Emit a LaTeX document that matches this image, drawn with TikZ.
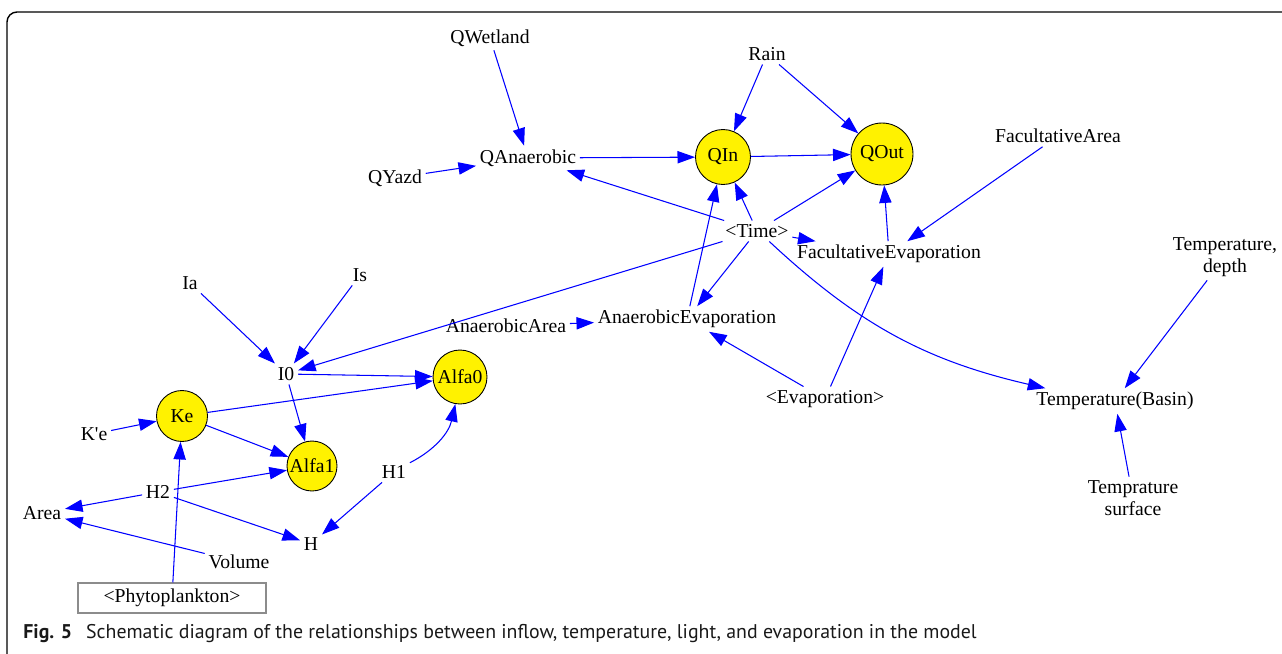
\documentclass[tikz,border=0pt]{standalone}
\usepackage{fontspec}
\setmainfont{Liberation Serif}
\newfontfamily\capfont{PT Sans}
\usetikzlibrary{arrows.meta,shapes.geometric}

\begin{document}
\begin{tikzpicture}
[x=0.02cm,y=-0.02cm,
 var/.style={inner sep=2pt,font=\fontsize{11.2}{12.5}\selectfont,align=center},
 lvl/.style={var,circle,draw,fill=yellow,inner sep=0pt,line width=0.5pt},
 shadow/.style={var,draw=black!45,line width=0.6pt,minimum width=3.76cm,minimum height=0.6cm},
 link/.style={draw=blue,line width=0.6pt,-{Triangle[length=10pt,width=7pt,fill=blue]}}]
\useasboundingbox (0,0) rectangle (1282,653);
% frame
\draw[black,line width=0.8pt,rounded corners=0.2cm] (7,700) |- (1300,12);
% inflow part
\node[var] (qwet) at (490,38) {QWetland};
\node[var] (qana) at (528,158) {QAnaerobic};
\node[var] (qyazd) at (395,178) {QYazd};
\node[var] (rain) at (767,54) {Rain};
\node[lvl,minimum size=1.1cm] (qin) at (723,157) {QIn};
\node[lvl,minimum size=1.24cm] (qout) at (882,154) {QOut};
\node[var] (facarea) at (1058,136) {FacultativeArea};
\node[var] (time) at (757,231) {<Time>};
\node[var] (faceva) at (889,254) {FacultativeEvaporation};
\node[var] (anaarea) at (506,326) {AnaerobicArea};
\node[var] (anaeva) at (687,319) {AnaerobicEvaporation};
\node[var] (eva) at (825,399) {<Evaporation>};
% temperature
\node[var] (tdepth) at (1225,257) {Temperature,\\depth};
\node[var] (tbasin) at (1115,401) {Temperature(Basin)};
\node[var] (tsurf) at (1133,498) {Temprature\\surface};
% light
\node[var] (ia) at (190,283) {Ia};
\node[var] (is) at (360,275) {Is};
\node[var] (i0) at (286,374) {I0};
\node[lvl,minimum size=1.08cm] (alfa0) at (460,377) {Alfa0};
\node[lvl,minimum size=1.02cm] (ke) at (182,416) {Ke};
\node[var] (kpe) at (94,434) {K\textquotesingle e};
\node[lvl,minimum size=1.0cm] (alfa1) at (312,466) {Alfa1};
\node[var] (h1) at (394,472) {H1};
\node[var] (h2) at (158,492) {H2};
\node[var] (area) at (42,513) {Area};
\node[var] (h) at (311,544) {H};
\node[var] (vol) at (239,562) {Volume};
\node[shadow] (phyto) at (172,598) {<Phytoplankton>};
% links
\path[link] (qwet) edge (qana)
(qyazd) edge (qana)
(qana) edge (qin)
(rain) edge (qin) edge (qout)
(qin) edge (qout)
(time) edge (qana) edge (qin) edge (qout) edge (faceva) edge (anaeva) edge (i0)
(time) edge[bend right=15] (tbasin)
(anaeva) edge (qin)
(faceva) edge (qout)
(facarea) edge (faceva)
(eva) edge (anaeva) edge (faceva)
(anaarea) edge (anaeva)
(tdepth) edge (tbasin)
(tsurf) edge (tbasin)
(ia) edge (i0)
(is) edge (i0)
(i0) edge (alfa0) edge (alfa1)
(ke) edge (alfa0) edge (alfa1)
(kpe) edge (ke)
(phyto) edge (ke)
(h2) edge (alfa1) edge (area) edge (h)
(vol) edge (area)
(h1) edge[bend right=25] (alfa0) edge (h);
% caption
\node[anchor=west,inner sep=0pt,text=black!90,font=\capfont\fontsize{11.3}{13}\selectfont] (cap) at (23,634) {\textbf{Fig. 5}\hspace{0.7em}Schematic diagram of the relationships between inflow, temperature, light, and evaporation in the model};
\end{tikzpicture}
\end{document}
